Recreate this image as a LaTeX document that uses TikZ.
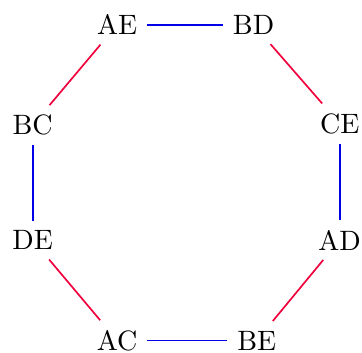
\documentclass[tikz,border=0pt]{standalone}
\definecolor{pairred}{RGB}{240, 0, 60}
\definecolor{pairblue}{RGB}{0, 0, 230}
\usepackage{tikz}
\usetikzlibrary{positioning}

\begin{document}
\begin{tikzpicture}
  \useasboundingbox (0, 0) rectangle (4.54, -4.42);

  % Vertices
  \node (AE) at (1.47, -0.31) {AE};
  \node (BD) at (3.18, -0.31) {BD};
  \node (CE) at (4.26, -1.55) {CE};
  \node (AD) at (4.26, -3.01) {AD};
  \node (BE) at (3.22, -4.27) {BE};
  \node (AC) at (1.47, -4.27) {AC};
  \node (DE) at (0.41, -3.01) {DE};
  \node (BC) at (0.41, -1.57) {BC};

  % Edges
  \draw[pairblue, semithick] (AE) -- (BD);
  \draw[pairred, semithick] (BD) -- (CE);
  \draw[pairblue, semithick] (CE) -- (AD);
  \draw[pairred, semithick] (AD) -- (BE);
  \draw[pairblue, semithick] (BE) -- (AC);
  \draw[pairred, semithick] (AC) -- (DE);
  \draw[pairblue, semithick] (DE) -- (BC);
  \draw[pairred, semithick] (BC) -- (AE);
\end{tikzpicture}
\end{document}
